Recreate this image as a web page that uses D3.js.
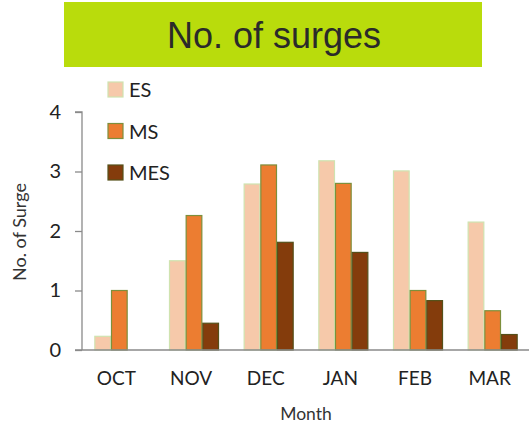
<!DOCTYPE html>
<html>
<head>
<meta charset="utf-8">
<script src="https://cdn.jsdelivr.net/npm/d3@7"></script>
<style>
  html, body { margin: 0; padding: 0; background: #ffffff; }
  svg { display: block; }
</style>
</head>
<body>
<svg id="chart" width="529" height="423"></svg>
<script>
// Monthly surge counts by surge type
const months = ["OCT", "NOV", "DEC", "JAN", "FEB", "MAR"];
const seriesNames = ["ES", "MS", "MES"];
const esValues  = [0.23, 1.5, 2.79, 3.18, 3.01, 2.15];
const msValues  = [1.0, 2.26, 3.11, 2.8, 1.0, 0.66];
const mesValues = [0, 0.45, 1.81, 1.64, 0.83, 0.26];
const yTicks = [0, 1, 2, 3, 4];

const fills   = { ES: "#f6c9aa", MS: "#ec7d31", MES: "#843c0c" };
const strokes = { ES: "#cfe3b0", MS: "#7d8f3c", MES: "#55501a" };
const valuesBySeries = { ES: esValues, MS: msValues, MES: mesValues };

const svg = d3.select("#chart");
const font = "Lato, 'Open Sans', 'DejaVu Sans', sans-serif";

// Title banner
svg.append("rect")
  .attr("x", 64).attr("y", 2).attr("width", 418).attr("height", 65)
  .attr("fill", "#b9dc0c");
svg.append("text")
  .attr("x", 274).attr("y", 48)
  .attr("text-anchor", "middle")
  .attr("font-family", "'Liberation Sans', Arial, sans-serif")
  .attr("font-size", 36)
  .attr("fill", "#2a2a2a")
  .text("No. of surges");

// Scales
const x0 = d3.scaleBand().domain(months).range([82, 530])
  .paddingInner(0.33).paddingOuter(0.165);
const x1 = d3.scaleBand().domain(seriesNames).range([0, x0.bandwidth()]);
const y = d3.scaleLinear().domain([0, 4]).range([350, 112]);

// Bars
const rows = months.map((m, i) => ({
  month: m,
  items: seriesNames.map(s => ({ series: s, value: valuesBySeries[s][i] }))
}));

const groups = svg.append("g").selectAll("g").data(rows).join("g")
  .attr("transform", d => `translate(${x0(d.month)},0)`);

groups.selectAll("rect")
  .data(d => d.items.filter(it => it.value > 0))
  .join("rect")
  .attr("x", d => x1(d.series) + 0.5)
  .attr("y", d => y(d.value))
  .attr("width", x1.bandwidth() - 1)
  .attr("height", d => y(0) - y(d.value))
  .attr("fill", d => fills[d.series])
  .attr("stroke", d => strokes[d.series])
  .attr("stroke-width", 1.2);

// Y axis
const yAxis = svg.append("g")
  .attr("transform", "translate(82,0)")
  .call(d3.axisLeft(y).tickValues(yTicks).tickSize(7).tickPadding(14).tickFormat(d3.format("d")));
yAxis.select(".domain").attr("stroke", "#8a8a8a").attr("stroke-width", 1.3)
  .attr("d", "M-7,112H0V350");
yAxis.selectAll(".tick line").attr("stroke", "#8a8a8a").attr("stroke-width", 1.3);
yAxis.selectAll(".tick text")
  .attr("font-family", font).attr("font-size", 20).attr("fill", "#222");

// X axis baseline
const xAxis = svg.append("g")
  .attr("transform", "translate(0,350)")
  .call(d3.axisBottom(x0).tickSize(0).tickPadding(22));
xAxis.select(".domain").attr("stroke", "#8a8a8a").attr("stroke-width", 1.3)
  .attr("d", "M75,0H529");
xAxis.selectAll(".tick text")
  .attr("dx", -3)
  .attr("font-family", font).attr("font-size", 19).attr("fill", "#222");

// Axis titles
svg.append("text")
  .attr("transform", "translate(26,232) rotate(-90)")
  .attr("text-anchor", "middle")
  .attr("font-family", font).attr("font-size", 18).attr("fill", "#333")
  .text("No. of Surge");
svg.append("text")
  .attr("x", 306).attr("y", 420)
  .attr("text-anchor", "middle")
  .attr("font-family", font).attr("font-size", 17.5).attr("fill", "#333")
  .text("Month");

// Legend
const legend = svg.append("g").selectAll("g").data(seriesNames).join("g")
  .attr("transform", (d, i) => `translate(108,${82 + i * 41.5})`);
legend.append("rect")
  .attr("width", 15).attr("height", 15)
  .attr("fill", d => fills[d]).attr("stroke", d => strokes[d]).attr("stroke-width", 1.2);
legend.append("text")
  .attr("x", 21).attr("y", 15)
  .attr("font-family", font).attr("font-size", 20).attr("fill", "#222")
  .text(d => d);
</script>
</body>
</html>
